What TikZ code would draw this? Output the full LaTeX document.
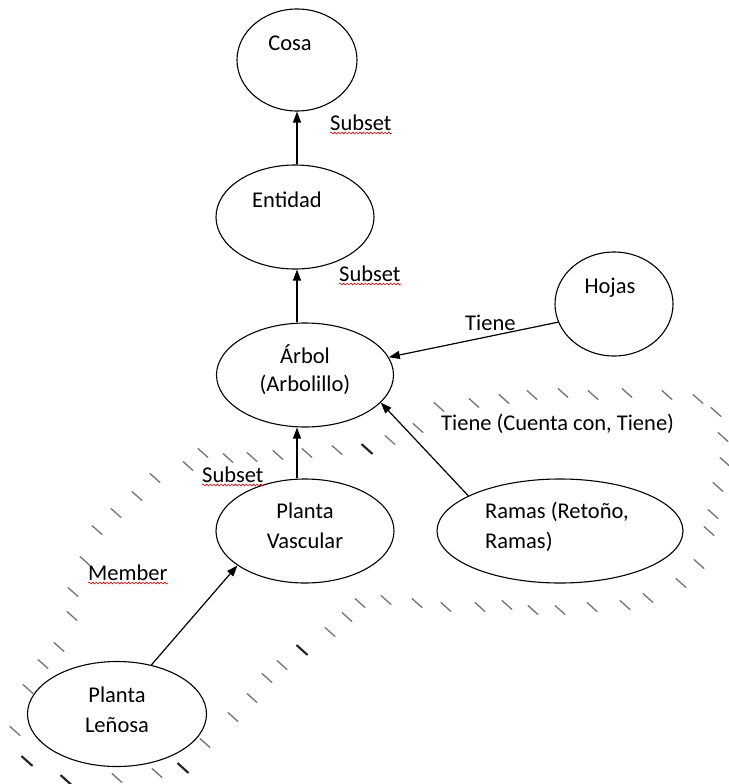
\documentclass[tikz,border=0pt]{standalone}
\usepackage{fontspec}
\setmainfont{Carlito}
\usetikzlibrary{arrows.meta,decorations.pathmorphing,shapes.geometric}

\begin{document}
\begin{tikzpicture}[x=1pt,y=-1pt,
  concept/.style={draw, ellipse, line width=1.1pt, inner sep=0pt},
  txt/.style={font=\fontsize{22.5}{29}\selectfont, inner sep=0pt},
  rel/.style={line width=1.2pt, -{Triangle[length=11pt,width=8pt]}},
  hatchmark/.style={line width=1.3pt, draw=black!55, line cap=round},
  hatchbold/.style={line width=2.2pt, draw=black!85, line cap=round},
  squiggle/.style={draw=red!85!black, line width=0.6pt, decorate,
    decoration={snake, amplitude=0.9pt, segment length=3.6pt}}]

\useasboundingbox (0,0) rectangle (728,784);

% ---- hatched band around the lower part of the hierarchy ----
\foreach \p in {(15,731),(28,689),(43,664),(59,647),(72,616),(73,592),(85,561),
  (97,530),(116,513),(137,496),(155,478),(188,466),(203,453),(228,458),(252,457),
  (278,455),(307,453),(337,450),(390,440),(418,428),(439,407),(474,403),(504,399),
  (532,395),(563,393),(593,395),(627,393),(667,395),(698,399),(716,412),(723,437),
  (725,462),(718,487),(713,514),(709,531),(699,564),(681,583),(648,598),(625,605),
  (592,607),(560,610),(533,610),(507,605),(480,607),(446,607),(417,603),(386,600),
  (360,603),(347,617),(330,632),(282,665),(267,678),(252,698),(233,717),(205,743),
  (157,773),(117,778)}
  \draw[hatchmark] \p ++(-5,-4.5) -- ++(10,9);
\foreach \p in {(367,449),(302,650),(183,768),(66,780),(27,761)}
  \draw[hatchbold] \p ++(-5,-4.5) -- ++(10,9);

% ---- concepts ----
\node[concept, minimum width=120, minimum height=102] (cosa)     at (297,60)  {};
\node[concept, minimum width=158, minimum height=104] (entidad)  at (295,217) {};
\node[concept, minimum width=118, minimum height=104] (hojas)    at (614,304) {};
\node[concept, minimum width=177, minimum height=104] (arbol)    at (305,375) {};
\node[concept, minimum width=178, minimum height=104] (vascular) at (305,531) {};
\node[concept, minimum width=246, minimum height=104] (ramas)    at (560,531) {};
\node[concept, minimum width=179, minimum height=105] (lenosa)   at (117,714) {};

% ---- concept texts ----
\node[txt, anchor=base] (cosa-t)    at (290,51)  {Cosa};
\node[txt, anchor=base] (entidad-t) at (287,207) {Entidad};
\node[txt, anchor=base] (hojas-t)   at (610,293) {Hojas};
\node[txt, anchor=base] (arbol-t1)  at (305,363) {Árbol};
\node[txt, anchor=base] (arbol-t2)  at (305,391) {(Arbolillo)};
\node[txt, anchor=base] (vasc-t1)   at (305,518) {Planta};
\node[txt, anchor=base] (vasc-t2)   at (305,548) {Vascular};
\node[txt, anchor=base west] (ramas-t1) at (485,518) {Ramas (Retoño,};
\node[txt, anchor=base west] (ramas-t2) at (485,548) {Ramas)};
\node[txt, anchor=base] (lenosa-t1) at (117,702) {Planta};
\node[txt, anchor=base] (lenosa-t2) at (117,732) {Leñosa};

% ---- relations ----
\draw[rel] (cosa.south |- entidad.north) -- (cosa.south);
\draw[rel] (cosa.south |- arbol.north) -- (cosa.south |- entidad.south);
\draw[rel] (cosa.south |- vascular.north) -- (cosa.south |- arbol.south);
\draw[rel] (hojas.198) -- (arbol.12);
\draw[rel] (ramas.159) -- (arbol.-20);
\draw[rel] (lenosa.55) -- (vascular.207);

% ---- relation labels ----
\node[txt, anchor=base west] (sub1)   at (330,130) {Subset};
\node[txt, anchor=base west] (sub2)   at (339,281) {Subset};
\node[txt, anchor=base west] (sub3)   at (202,482) {Subset};
\node[txt, anchor=base west] (member) at (88,580)  {Member};
\node[txt, anchor=base west] (tiene1) at (465,330) {Tiene};
\node[txt, anchor=base west] (tiene2) at (441,430) {Tiene (Cuenta con, Tiene)};

\foreach \n in {sub1,sub2,sub3,member}
  \draw[squiggle] ([yshift=-3pt]\n.base west) -- ([yshift=-3pt]\n.base east);

\end{tikzpicture}
\end{document}
